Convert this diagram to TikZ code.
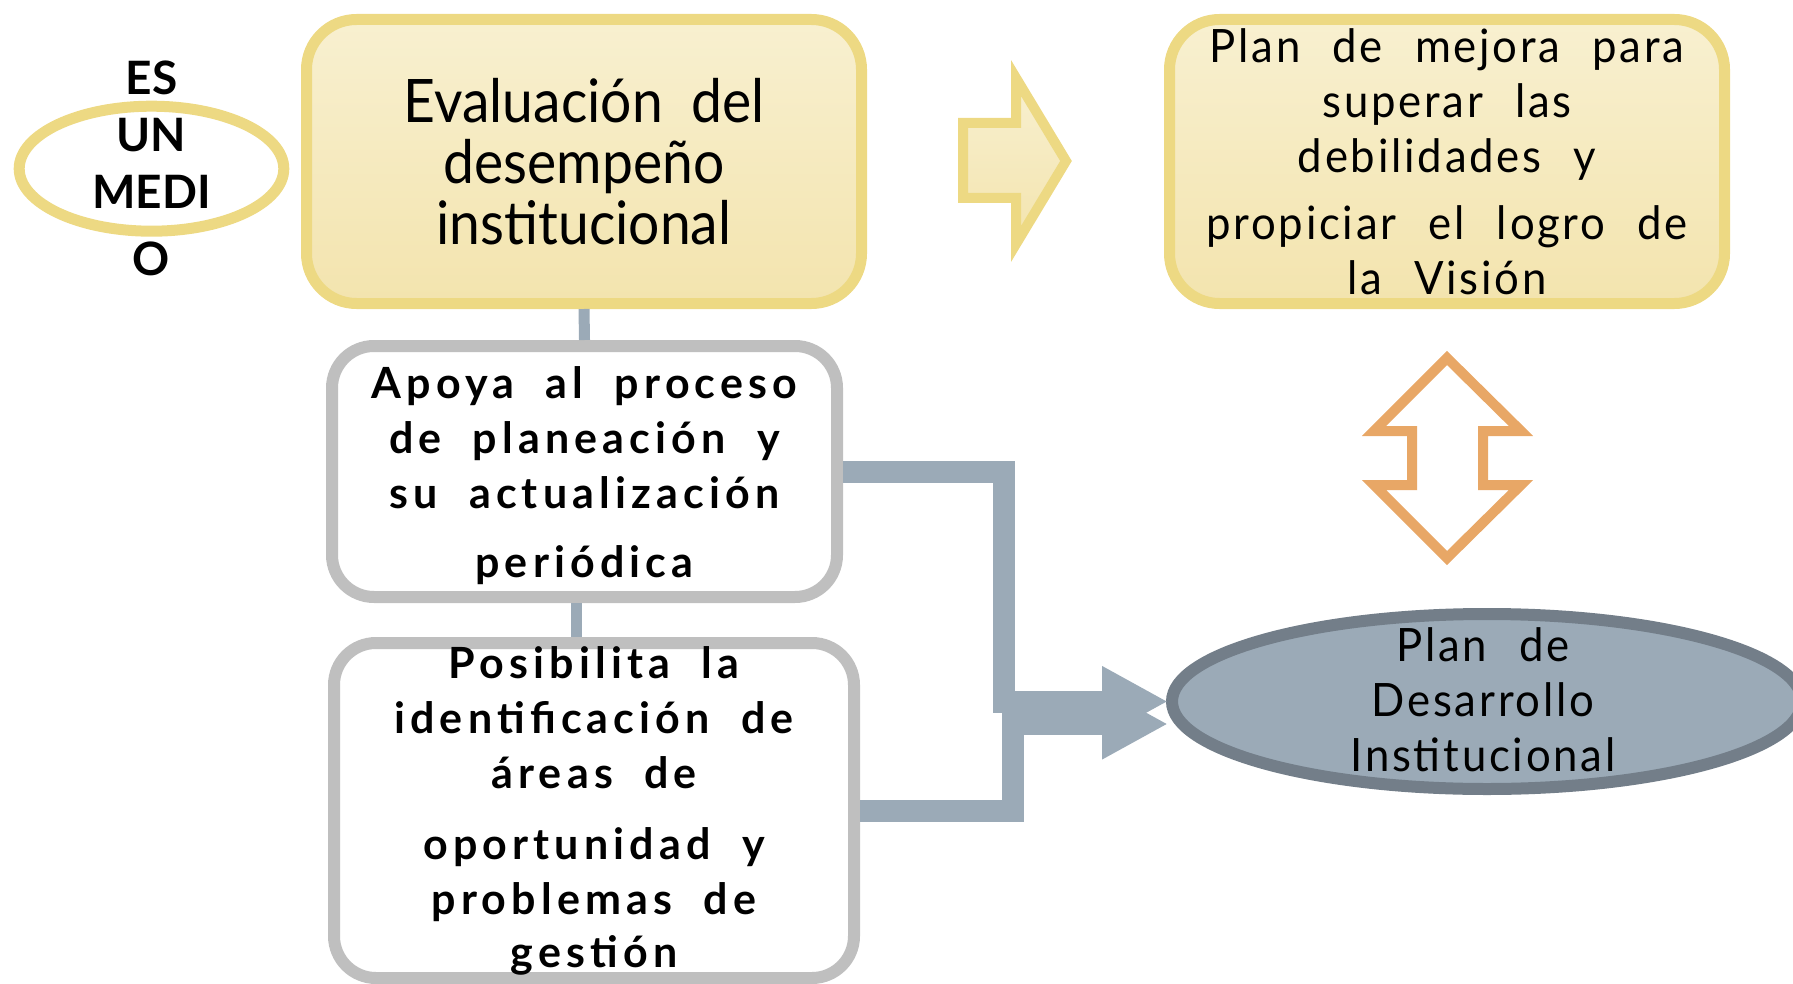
\documentclass[tikz,border=0pt]{standalone}
\usepackage{fontspec}
\setmainfont{Lato}
\newfontfamily\condfont{Lato}[FakeStretch=0.92,WordSpace=2]
\newfontfamily\condspaced{Lato}[FakeStretch=0.95,LetterSpace=6,WordSpace=2.3]
\newfontfamily\boldspaced{Lato}[LetterSpace=12,WordSpace=2]
\usetikzlibrary{shapes.geometric,arrows.meta}

\definecolor{yborder}{HTML}{EDD983}
\definecolor{ytop}{HTML}{F8F0D0}
\definecolor{ybot}{HTML}{F3E4AE}
\definecolor{gborder}{HTML}{BFBFBF}
\definecolor{conn}{HTML}{9BAAB7}
\definecolor{pdeborder}{HTML}{737E89}
\definecolor{naranja}{HTML}{E8A766}

\tikzset{
  ybox/.style={draw=yborder, line width=5.5pt, rounded corners=25pt, top color=ytop, bottom color=ybot,
    minimum width=277.5pt, minimum height=142pt, inner sep=0pt, align=center},
  gbox/.style={draw=gborder, line width=6pt, rounded corners=21pt, fill=white, inner sep=0pt, align=center,
    font={\boldspaced\bfseries\fontsize{21.5pt}{27.5pt}\selectfont}},
  thin conn/.style={draw=conn, line width=5.5pt},
  thick conn/.style={draw=conn, line width=11pt, -{Triangle[length=33pt,width=33pt]}},
}

\begin{document}
\begin{tikzpicture}[x=0.5pt,y=-0.5pt]
   \useasboundingbox (0,0) rectangle (1793,984);

   \node[ellipse, draw=yborder, line width=5.5pt, fill=white, minimum width=132.3pt, minimum height=62.5pt, inner sep=0pt] (medio) at (151.5,168.7) {};
   \node[align=center, inner sep=0pt, font={\bfseries\fontsize{23pt}{28.5pt}\selectfont}] (mediotxt) at (medio) {ES\\UN\\MEDI\\[5pt]O};

   \node[ybox, font={\condfont\fontsize{30pt}{30.5pt}\selectfont}] (eval) at (584,161.5) {Evaluación del\\desempeño\\institucional};
   \node[ybox, font={\condspaced\fontsize{23pt}{27.5pt}\selectfont}] (mejora) at (1447,161.5)
      {Plan de mejora para\\superar las\\debilidades y\\[6pt]propiciar el logro de\\la Visión};

   \draw[draw=yborder, line width=5pt, top color=ytop, bottom color=ybot]
      (963,123) -- (1016,123) -- (1016,78) -- (1066,161) -- (1016,244) -- (1016,198) -- (963,198) -- cycle;

   \node[gbox, minimum width=252.5pt, minimum height=125.5pt] (apoya) at (584.5,471.5)
      {\\[-7pt]Apoya al proceso\\de planeación y\\su actualización\\[7pt]periódica};
   \node[gbox, minimum width=260pt, minimum height=167.5pt] (posib) at (594,810.5)
      {Posibilita la\\identificación de\\áreas de\\[8pt]oportunidad y\\problemas de\\[-1pt]gestión};

   \node[ellipse, draw=pdeborder, line width=6pt, fill=conn, minimum width=315pt, minimum height=87.5pt, inner sep=0pt] (pde) at (1487,701.5) {};
   \node[align=center, inner sep=0pt, font={\condspaced\fontsize{23pt}{27.5pt}\selectfont}] (pdetxt) at (1483,700) {Plan de\\Desarrollo\\Institucional};

   \draw[draw=naranja, line width=5pt, fill=white]
      (1447,358) -- (1521,431) -- (1483,431) -- (1483,485) -- (1521,485) -- (1447,558)
      -- (1374,485) -- (1412,485) -- (1412,431) -- (1374,431) -- cycle;

   \draw[thin conn] (eval.south) -- (apoya.north);
   \draw[thin conn] ([xshift=-4.25pt]apoya.south) -- ([xshift=-4.25pt]apoya.south |- posib.north);

   \draw[thick conn] (apoya.east) -| ([xshift=-81pt]pde.west) -- ([xshift=1pt]pde.west);
   \draw[thick conn] (posib.east) -| ([xshift=-76.5pt,yshift=-11.25pt]pde.west) -- ([xshift=1pt,yshift=-11.25pt]pde.west);
\end{tikzpicture}
\end{document}
